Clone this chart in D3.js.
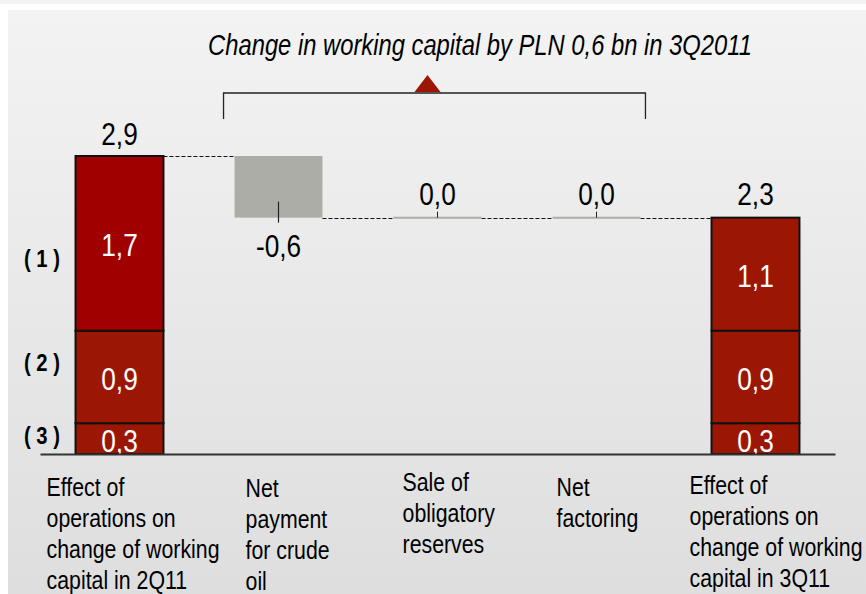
<!DOCTYPE html>
<html>
<head>
<meta charset="utf-8">
<script src="https://cdn.jsdelivr.net/npm/d3@7"></script>
<style>
  body { margin: 0; background: #fff; }
  svg { display: block; }
  text { font-family: "Liberation Sans", Arial, sans-serif; fill: #000; }
</style>
</head>
<body>
<div id="chart"></div>
<script>
// data
var categories = [
  ["Effect of", "operations on", "change of working", "capital in 2Q11"],
  ["Net", "payment", "for crude", "oil"],
  ["Sale of", "obligatory", "reserves"],
  ["Net", "factoring"],
  ["Effect of", "operations on", "change of working", "capital in 3Q11"]
];
var componentLabels = ["( 1 )", "( 2 )", "( 3 )"];
var startValues = [1.7, 0.9, 0.3];     // 2Q11, components (1) (2) (3)
var changeValues = [-0.6, 0.0, 0.0];   // crude oil, reserves, factoring
var endValues = [1.1, 0.9, 0.3];       // 3Q11, components (1) (2) (3)
var titleText = "Change in working capital by PLN 0,6 bn in 3Q2011";

// layout
var width = 866, height = 594;
var squeeze = 0.82;                     // narrow font look
var labelDx = [-29, 11, 9, 4, -22];     // category label nudges
var labelDy = [0, 1, -5, 0, -2];
var rowLabelDy = [16, -14, -3];

var fmt = d3.formatLocale({decimal: ",", thousands: " ", grouping: [3], currency: ["", ""], minus: "-"}).format(".1f");

var svg = d3.select("#chart").append("svg")
  .attr("width", width)
  .attr("height", height);

var grad = svg.append("defs").append("linearGradient")
  .attr("id", "bg").attr("x1", 0).attr("y1", 0).attr("x2", 0).attr("y2", 1);
grad.append("stop").attr("offset", "0%").attr("stop-color", "#f3f3f3");
grad.append("stop").attr("offset", "100%").attr("stop-color", "#dedede");

svg.append("rect").attr("x", 0).attr("y", 0).attr("width", width).attr("height", 4).attr("fill", "#f2f2f2");
svg.append("rect").attr("x", 8).attr("y", 10).attr("width", width - 8).attr("height", height - 10).attr("fill", "url(#bg)");

function label(parent, px, py, str, size, opts) {
  opts = opts || {};
  var g = parent.append("g")
    .attr("transform", "translate(" + px + "," + py + ") scale(" + (opts.sx || squeeze) + ",1)");
  return g.append("text")
    .attr("text-anchor", opts.anchor || "middle")
    .style("font-size", size + "px")
    .style("font-style", opts.italic ? "italic" : "normal")
    .style("font-weight", opts.bold ? "bold" : "normal")
    .style("fill", opts.color || "#000")
    .text(str);
}

var startTotal = d3.sum(startValues),
  endTotal = d3.sum(endValues);

var x = d3.scaleBand()
  .domain(d3.range(categories.length))
  .range([40, 835])
  .paddingInner(0.447)
  .paddingOuter(0.2235);
var y = d3.scaleLinear()
  .domain([0, startTotal])
  .range([454, 156]);
var bw = x.bandwidth();

// stacked segments, bottom up
function stackOf(values, col) {
  var acc = 0, segs = [];
  for (var k = values.length - 1; k >= 0; k--) {
    segs.push({col: col, k: k, y0: acc, y1: acc + values[k], value: values[k]});
    acc += values[k];
  }
  return segs;
}
var segments = stackOf(startValues, 0).concat(stackOf(endValues, categories.length - 1));

// running steps for the changes
var level = startTotal;
var steps = changeValues.map(function (v, i) {
  var from = level;
  level += v;
  return {col: i + 1, from: from, to: level, value: v};
});

// connectors
var levels = [startTotal].concat(steps.map(function (d) { return d.to; }));
svg.append("g").selectAll("line")
  .data(levels)
  .enter().append("line")
    .attr("x1", function (d, i) { return x(i) + bw; })
    .attr("x2", function (d, i) { return x(i + 1); })
    .attr("y1", function (d) { return Math.round(y(d)) + 0.5; })
    .attr("y2", function (d) { return Math.round(y(d)) + 0.5; })
    .attr("stroke", "#111")
    .attr("stroke-width", 1)
    .attr("stroke-dasharray", "4,2");

// stacked bars
svg.append("g").selectAll("rect")
  .data(segments)
  .enter().append("rect")
    .attr("x", function (d) { return x(d.col); })
    .attr("y", function (d) { return y(d.y1); })
    .attr("width", bw)
    .attr("height", function (d) { return y(d.y0) - y(d.y1); })
    .attr("fill", function (d) { return (d.col === 0 && d.k === 0) ? "#a00000" : "#9c1604"; })
    .attr("stroke", "#111")
    .attr("stroke-width", 2);

segments.forEach(function (d) {
  label(svg, x(d.col) + bw / 2, (y(d.y0) + y(d.y1)) / 2 + 13, fmt(d.value), 32, {color: "#fff"});
});

// change bars
var changeG = svg.append("g");
steps.forEach(function (d) {
  var cx = x(d.col) + bw / 2;
  if (d.value === 0) {
    changeG.append("line")
      .attr("x1", x(d.col)).attr("x2", x(d.col) + bw)
      .attr("y1", y(d.to)).attr("y2", y(d.to))
      .attr("stroke", "#adada8").attr("stroke-width", 2);
    changeG.append("line")
      .attr("x1", cx).attr("x2", cx)
      .attr("y1", y(d.to) - 6).attr("y2", y(d.to))
      .attr("stroke", "#222").attr("stroke-width", 1);
    label(svg, cx, y(d.to) - 13, fmt(d.value), 32);
  } else {
    changeG.append("rect")
      .attr("x", x(d.col))
      .attr("y", y(Math.max(d.from, d.to)))
      .attr("width", bw)
      .attr("height", Math.abs(y(d.from) - y(d.to)))
      .attr("fill", "#adada8");
    changeG.append("line")
      .attr("x1", cx).attr("x2", cx)
      .attr("y1", y(d.to) - 16).attr("y2", y(d.to) + 5)
      .attr("stroke", "#222").attr("stroke-width", 1.2);
    label(svg, cx, y(d.to) + 39, fmt(d.value), 32);
  }
});

// totals
label(svg, x(0) + bw / 2, y(startTotal) - 11, fmt(startTotal), 32);
label(svg, x(categories.length - 1) + bw / 2, y(endTotal) - 13, fmt(endTotal), 32);

// baseline
var xAxis = d3.axisBottom(x).tickSize(0).tickSizeOuter(0).tickFormat("");
var axisG = svg.append("g")
  .attr("transform", "translate(0," + y(0) + ")")
  .call(xAxis);
axisG.select(".domain").attr("stroke", "#333").attr("stroke-width", 2);

// category labels
categories.forEach(function (lines, i) {
  lines.forEach(function (ln, j) {
    label(svg, x(i) + labelDx[i], 496 + labelDy[i] + j * 31, ln, 26, {anchor: "start"});
  });
});

// component labels, beside the first stack
stackOf(startValues, 0).forEach(function (d) {
  label(svg, 42, (y(d.y0) + y(d.y1)) / 2 + 8 + rowLabelDy[d.k], componentLabels[d.k], 23, {bold: true, sx: 0.88});
});

// bracket over the changes
var bx1 = x(1) - 11, bx2 = x(changeValues.length) + bw + 5, bTop = 93, bBot = 119;
svg.append("path")
  .attr("d", "M" + bx1 + "," + bBot + "V" + bTop + "H" + bx2 + "V" + bBot)
  .attr("fill", "none")
  .attr("stroke", "#222")
  .attr("stroke-width", 1.3);
var tx = (bx1 + bx2) / 2 - 7;
svg.append("path")
  .attr("d", "M" + (tx - 13) + "," + (bTop - 1) + "L" + tx + "," + (bTop - 18) + "L" + (tx + 13) + "," + (bTop - 1) + "Z")
  .attr("fill", "#9c1604");

// title
label(svg, 480, 55, titleText, 29, {italic: true});
</script>
</body>
</html>
